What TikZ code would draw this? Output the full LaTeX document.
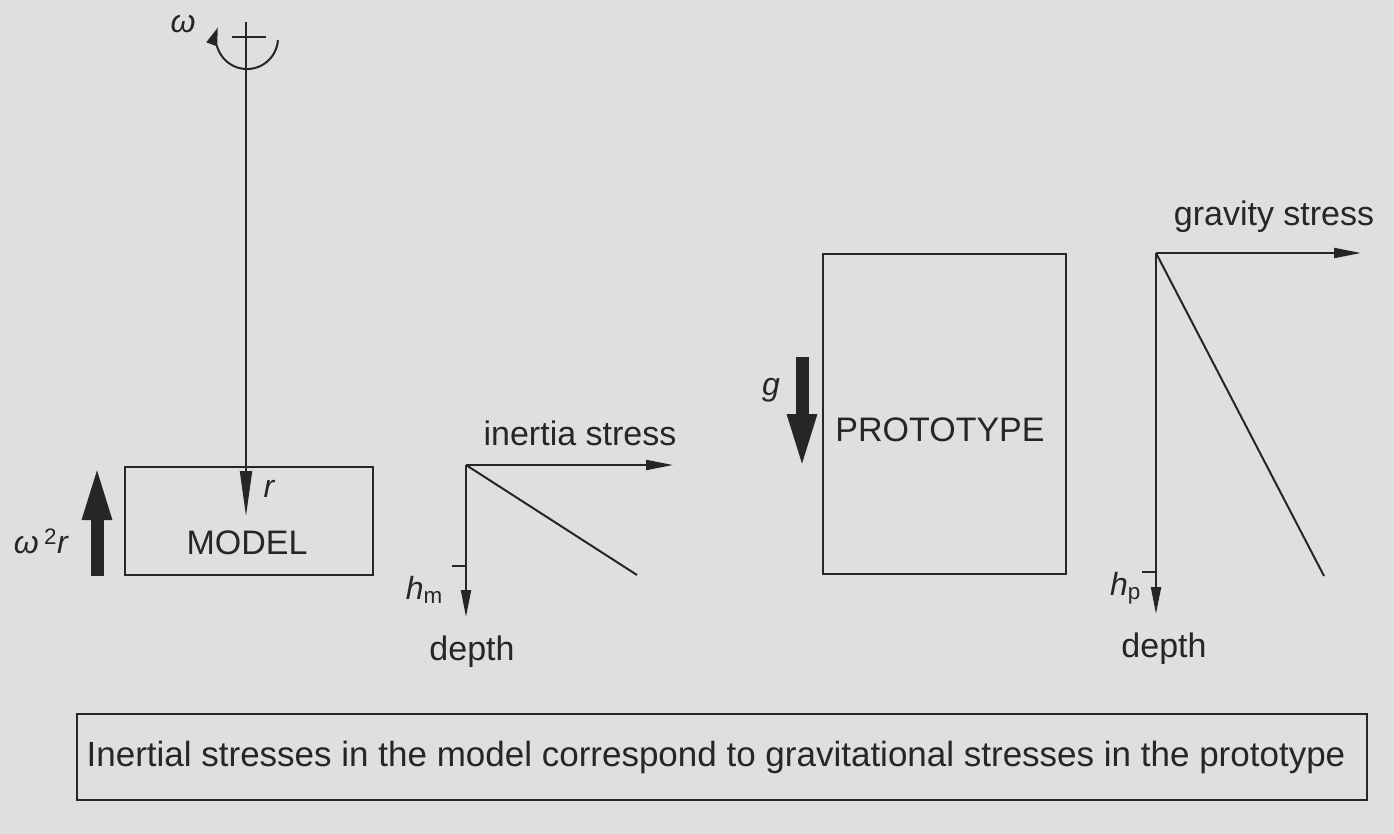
\documentclass[tikz,border=0pt]{standalone}
\usepackage{fontspec}
\setmainfont{Liberation Sans}
\usetikzlibrary{arrows.meta}
\definecolor{bg}{RGB}{223,223,223}
\definecolor{ink}{RGB}{38,38,38}
\begin{document}
\begin{tikzpicture}[x=1pt,y=-1pt,
  thin/.style={draw=ink, line width=2pt},
  arr/.style={thin, -{Triangle[length=27pt,width=10pt]}},
  longarr/.style={thin, -{Triangle[length=45pt,width=12pt]}},
  bigarr/.style={draw=ink, line width=13pt, -{Triangle[length=57pt,width=26pt]}},
  lbl/.style={text=ink, font=\fontsize{34}{40}\selectfont, inner sep=0pt},
  sym/.style={text=ink, font=\fontsize{32}{38}\selectfont\itshape, inner sep=0pt},
  boxed/.style={thin, rectangle, inner sep=0pt}]
\fill[bg] (0,0) rectangle (1394,834);
\useasboundingbox (0,0) rectangle (1394,834);

% rotation axis and symbol
\coordinate (axtop) at (246,22);
\coordinate (axtip) at (246,516);
\coordinate (crossL) at (232,37);
\coordinate (crossR) at (266,37);
\coordinate (arcstart) at (277.9,40.2);
\draw[longarr] (axtop) -- (axtip);
\draw[thin] (crossL) -- (crossR);
\draw[thin, -{Triangle[length=18pt,width=11pt]}] (arcstart) arc[start angle=4, end angle=200, radius=31];
\node[sym] (omega) at (183,24) {ω};
\node[sym] (rlbl) at (269,489) {r};

% model box
\node[boxed, minimum width=248pt, minimum height=108pt] (model) at (249,521) {};
\node[lbl] (modeltxt) at (247,543) {MODEL};

% omega^2 r arrow
\coordinate (wbot) at (97,576);
\coordinate (wtop) at (97,463);
\draw[bigarr] (wbot) -- (wtop);
\node[sym, anchor=east] (w2r) at (68,541) {ω\,\textsuperscript{\upshape 2}r};

% inertia stress axes
\coordinate (io) at (466,465);
\coordinate (ix) at (673,465);
\coordinate (iy) at (466,617);
\coordinate (id) at (637,575);
\coordinate (itA) at (452,566);
\coordinate (itB) at (466,566);
\draw[arr] (io) -- (ix);
\draw[arr] (io) -- (iy);
\draw[thin] (io) -- (id);
\draw[thin] (itA) -- (itB);
\node[lbl] (inertia) at (580,433) {inertia stress};
\node[lbl] (depth1) at (472,652) {depth};
\node[sym, anchor=east] (hm) at (443,590) {h\textsubscript{\upshape m}};

% prototype box
\node[boxed, minimum width=243pt, minimum height=320pt] (proto) at (944.5,414) {};
\node[lbl] (prototxt) at (940,430) {PROTOTYPE};

% g arrow
\coordinate (gtop) at (802,357);
\coordinate (gbot) at (802,471);
\draw[bigarr] (gtop) -- (gbot);
\node[sym] (glbl) at (771,390) {g};

% gravity stress axes
\coordinate (go) at (1156,253);
\coordinate (gx) at (1361,253);
\coordinate (gy) at (1156,614);
\coordinate (gd) at (1324,576);
\coordinate (gtA) at (1142,572);
\coordinate (gtB) at (1156,572);
\draw[arr] (go) -- (gx);
\draw[arr] (go) -- (gy);
\draw[thin] (go) -- (gd);
\draw[thin] (gtA) -- (gtB);
\node[lbl] (gravity) at (1274,217) {gravity stress};
\node[lbl] (depth2) at (1164,649) {depth};
\node[sym, anchor=east] (hp) at (1141,588) {h\textsubscript{\upshape p}};

% caption box
\node[boxed, minimum width=1290pt, minimum height=86pt] (capbox) at (722,757) {};
\node[lbl, font=\fontsize{35}{40}\selectfont] (captxt) at (716,757) {Inertial stresses in the model correspond to gravitational stresses in the prototype};
\end{tikzpicture}
\end{document}
